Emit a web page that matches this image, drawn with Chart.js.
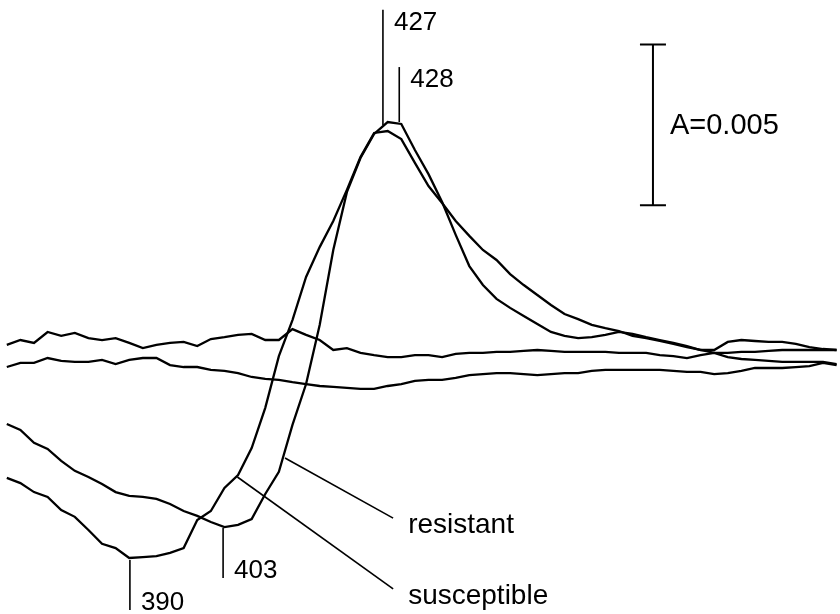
<!DOCTYPE html>
<html>
<head>
<meta charset="utf-8">
<title>Difference spectra</title>
<script src="https://cdn.jsdelivr.net/npm/chart.js@4.4.1/dist/chart.umd.min.js"></script>
<style>
    body { margin: 0; background: #fff; }
    #spectra { display: block; }
</style>
</head>
<body>
<canvas id="spectra" width="840" height="614"></canvas>
<script>

// wavelength (nm), every 2 nm
var wavelengths = [
    372, 374, 376, 378, 380, 382, 384, 386, 388, 390,
    392, 394, 396, 398, 400, 402, 404, 406, 408, 410,
    412, 414, 416, 418, 420, 422, 424, 426, 428, 430,
    432, 434, 436, 438, 440, 442, 444, 446, 448, 450,
    452, 454, 456, 458, 460, 462, 464, 466, 468, 470,
    472, 474, 476, 478, 480, 482, 484, 486, 488, 490,
    492, 494
];

// absorbance x 1000 (traces are offset, no absolute zero)
var baselineUpper = [
    0.16, 0.31, 0.22, 0.56, 0.44, 0.53, 0.37, 0.31, 0.37, 0.22,
    0.06, 0.16, 0.22, 0.25, 0.12, 0.34, 0.40, 0.47, 0.50, 0.31,
    0.31, 0.65, 0.47, 0.31, 0.00, 0.06, -0.09, -0.16, -0.22, -0.22,
    -0.16, -0.16, -0.22, -0.12, -0.09, -0.09, -0.06, -0.06, -0.03, 0.00,
    -0.03, -0.06, -0.06, -0.06, -0.06, -0.09, -0.09, -0.09, -0.16, -0.19,
    -0.25, -0.16, -0.09, -0.22, -0.28, -0.31, -0.34, -0.37, -0.37, -0.37,
    -0.37, -0.44
];

var baselineLower = [
    -0.53, -0.40, -0.40, -0.25, -0.34, -0.37, -0.37, -0.31, -0.44, -0.31,
    -0.25, -0.25, -0.47, -0.53, -0.53, -0.62, -0.65, -0.72, -0.84, -0.90,
    -0.93, -1.00, -1.06, -1.12, -1.15, -1.18, -1.21, -1.21, -1.12, -1.06,
    -0.96, -0.93, -0.93, -0.87, -0.78, -0.75, -0.72, -0.72, -0.75, -0.78,
    -0.75, -0.72, -0.72, -0.65, -0.62, -0.62, -0.62, -0.62, -0.62, -0.65,
    -0.68, -0.68, -0.75, -0.72, -0.65, -0.56, -0.56, -0.56, -0.53, -0.50,
    -0.40, -0.47
];

var susceptible = [
    -3.98, -4.14, -4.42, -4.57, -4.98, -5.19, -5.60, -6.03, -6.16, -6.47,
    -6.44, -6.41, -6.31, -6.16, -5.29, -5.01, -4.29, -3.89, -3.05, -1.80,
    -0.19, 0.93, 2.27, 3.20, 4.01, 4.98, 6.00, 6.75, 6.81, 6.56,
    5.82, 5.10, 4.57, 4.01, 3.55, 3.11, 2.80, 2.36, 2.02, 1.71,
    1.40, 1.12, 0.96, 0.78, 0.68, 0.59, 0.44, 0.37, 0.28, 0.19,
    0.09, 0.00, -0.09, -0.09, -0.06, -0.06, -0.03, 0.00, 0.00, 0.00,
    0.00, 0.00
];

var resistant = [
    -2.30, -2.49, -2.89, -3.08, -3.45, -3.76, -3.95, -4.17, -4.42, -4.54,
    -4.57, -4.63, -4.79, -5.01, -5.16, -5.35, -5.51, -5.44, -5.26, -4.48,
    -3.79, -2.33, -1.06, 0.78, 3.11, 4.91, 5.97, 6.72, 7.09, 7.03,
    6.22, 5.47, 4.60, 3.58, 2.61, 2.02, 1.59, 1.31, 1.06, 0.81,
    0.56, 0.44, 0.37, 0.40, 0.47, 0.56, 0.50, 0.40, 0.31, 0.22,
    0.12, 0.00, 0.00, 0.25, 0.31, 0.28, 0.25, 0.25, 0.19, 0.09,
    0.03, 0.00
];

// peak / trough marks: label, x (nm), from curve y to end y
var markLabels = ['390', '403', '427', '428'];
var markX = [390.1, 403.8, 427.3, 429.7];
var markFrom = [-6.53, -5.54, 7.00, 7.09];
var markTo = [-8.09, -7.09, 10.58, 8.80];

// curve names with leader lines
var pointerLabels = ['resistant', 'susceptible'];
var pointerStartX = [412.9, 405.9];
var pointerStartY = [-3.36, -3.95];
var pointerEndX = [428.8, 428.8];
var pointerEndY = [-5.23, -7.43];

// scale bar, A = 0.005
var scaleBarLabel = 'A=0.005';
var scaleBarX = 467.0;
var scaleBarBottom = 4.5;
var scaleBarTop = 9.5;

var ink = '#000';

var toPoints = function (ys) {
    return wavelengths.map(function (w, i) {
        return { x: w, y: ys[i] };
    });
};

var trace = function (label, ys) {
    return {
        label: label,
        data: toPoints(ys),
        borderColor: ink,
        borderWidth: 2.3,
        pointRadius: 0,
        tension: 0,
        fill: false
    };
};

var annotations = {
    id: 'annotations',
    afterDatasetsDraw: function (chart) {
        var ctx = chart.ctx;
        var xs = chart.scales.x;
        var ys = chart.scales.y;
        ctx.save();
        ctx.strokeStyle = ink;
        ctx.fillStyle = ink;
        ctx.lineWidth = 1.6;
        ctx.textBaseline = 'alphabetic';
        ctx.textAlign = 'left';

        // wavelength marks
        ctx.font = '26px "Liberation Sans", Arial, sans-serif';
        markLabels.forEach(function (txt, i) {
            var px = xs.getPixelForValue(markX[i]);
            var y0 = ys.getPixelForValue(markFrom[i]);
            var y1 = ys.getPixelForValue(markTo[i]);
            ctx.beginPath();
            ctx.moveTo(px, y0);
            ctx.lineTo(px, y1);
            ctx.stroke();
            var base = y1 > y0 ? y1 : y1 + 20;
            ctx.fillText(txt, px + 11, base);
        });

        // leader lines
        ctx.font = '28px "Liberation Sans", Arial, sans-serif';
        pointerLabels.forEach(function (txt, i) {
            var x0 = xs.getPixelForValue(pointerStartX[i]);
            var y0 = ys.getPixelForValue(pointerStartY[i]);
            var x1 = xs.getPixelForValue(pointerEndX[i]);
            var y1 = ys.getPixelForValue(pointerEndY[i]);
            ctx.beginPath();
            ctx.moveTo(x0, y0);
            ctx.lineTo(x1, y1);
            ctx.stroke();
            ctx.fillText(txt, x1 + 15, y1 + 15);
        });

        // scale bar
        var bx = xs.getPixelForValue(scaleBarX);
        var bt = ys.getPixelForValue(scaleBarTop);
        var bb = ys.getPixelForValue(scaleBarBottom);
        ctx.lineWidth = 2;
        ctx.beginPath();
        ctx.moveTo(bx, bt);
        ctx.lineTo(bx, bb);
        ctx.moveTo(bx - 13, bt);
        ctx.lineTo(bx + 13, bt);
        ctx.moveTo(bx - 13, bb);
        ctx.lineTo(bx + 13, bb);
        ctx.stroke();
        ctx.font = '29px "Liberation Sans", Arial, sans-serif';
        ctx.textBaseline = 'middle';
        ctx.fillText(scaleBarLabel, bx + 17, (bt + bb) / 2 + 1);

        ctx.restore();
    }
};

var ctx = document.getElementById('spectra').getContext('2d');
new Chart(ctx, {
    type: 'line',
    data: {
        datasets: [
            trace('baseline 1', baselineUpper),
            trace('baseline 2', baselineLower),
            trace('susceptible', susceptible),
            trace('resistant', resistant)
        ]
    },
    options: {
        responsive: false,
        animation: false,
        layout: { padding: 0 },
        plugins: {
            legend: { display: false },
            tooltip: { enabled: false }
        },
        scales: {
            x: { type: 'linear', min: 371, max: 494.5, display: false },
            y: { type: 'linear', min: -8.212, max: 10.886, display: false }
        }
    },
    plugins: [annotations]
});
</script>
</body>
</html>
